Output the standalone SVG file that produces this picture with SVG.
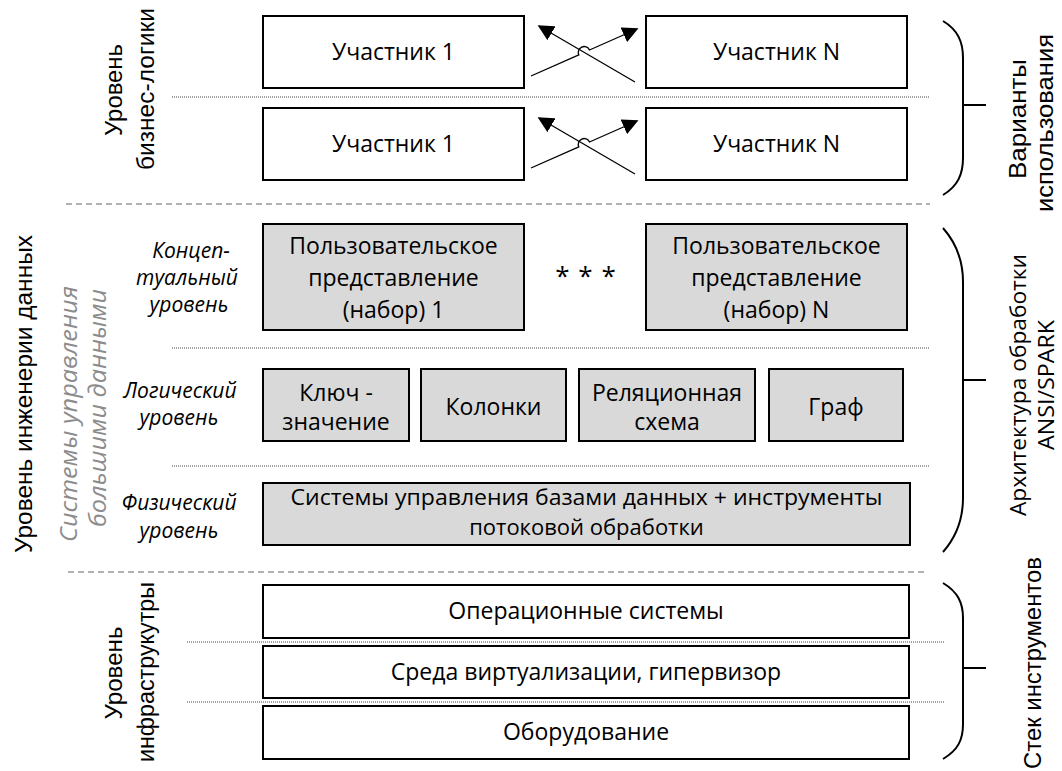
<svg xmlns="http://www.w3.org/2000/svg" width="1062" height="771" viewBox="0 0 1062 771">
  <defs>
    <marker id="tri" viewBox="0 0 10 10" refX="9" refY="5" markerWidth="16" markerHeight="16" markerUnits="userSpaceOnUse" orient="auto">
      <path d="M0,0 L10,5 L0,10 z" fill="#000"/>
    </marker>
    <style>
      .box { fill: #fff; stroke: #000; stroke-width: 2; }
      .gbox { fill: #d9d9d9; stroke: #000; stroke-width: 2; }
      .t { font-family: "Open Sans", "Liberation Sans", sans-serif; font-size: 23px; fill: #000; text-anchor: middle; }
      .t2 { font-family: "Open Sans", "Liberation Sans", sans-serif; font-size: 22px; fill: #000; text-anchor: middle; }
      .stars { font-family: "Open Sans", "Liberation Sans", sans-serif; font-size: 26px; letter-spacing: 1px; fill: #000; text-anchor: middle; }
      .it { font-family: "Open Sans", "Liberation Sans", sans-serif; font-style: italic; font-size: 21px; fill: #000; text-anchor: middle; }
      .git { font-family: "Open Sans", "Liberation Sans", sans-serif; font-style: italic; font-size: 23px; fill: #8c8c8c; text-anchor: middle; }
      .lab { font-family: "Liberation Sans", Arial, sans-serif; font-size: 23px; fill: #000; text-anchor: middle; }
      .labc { font-family: "Open Sans", "Liberation Sans", sans-serif; font-size: 22px; fill: #000; text-anchor: middle; }
      .dot { stroke: #444; stroke-width: 1; stroke-dasharray: 1 1; fill: none; }
      .dash { stroke: #666; stroke-width: 1.2; stroke-dasharray: 6 4; fill: none; }
      .brace { stroke: #000; stroke-width: 2; fill: none; }
      .conn { stroke: #000; stroke-width: 1.3; fill: none; }
    </style>
  </defs>

  <!-- separators between levels -->
  <g id="separators">
    <line class="dot" x1="172" y1="97" x2="930" y2="97"/>
    <line class="dash" x1="66" y1="204" x2="930" y2="204"/>
    <line class="dot" x1="172" y1="348" x2="930" y2="348"/>
    <line class="dot" x1="172" y1="466" x2="930" y2="466"/>
    <line class="dash" x1="68" y1="572" x2="928" y2="572"/>
    <line class="dot" x1="187" y1="642" x2="945" y2="642"/>
    <line class="dot" x1="187" y1="702" x2="945" y2="702"/>
  </g>

  <!-- business logic level -->
  <g id="p1a"><rect class="box" x="263" y="16" width="261" height="72"/><text class="t" x="393.5" y="60">Участник 1</text></g>
  <g id="pNa"><rect class="box" x="646" y="16" width="261" height="72"/><text class="t" x="776.5" y="60">Участник N</text></g>
  <g id="p1b"><rect class="box" x="263" y="108" width="261" height="72"/><text class="t" x="393.5" y="152">Участник 1</text></g>
  <g id="pNb"><rect class="box" x="646" y="108" width="261" height="72"/><text class="t" x="776.5" y="152">Участник N</text></g>

  <!-- conceptual level -->
  <g id="view1">
    <rect class="gbox" x="263" y="224" width="261" height="106"/>
    <text class="t" x="393.5" y="254">Пользовательское</text>
    <text class="t" x="393.5" y="286">представление</text>
    <text class="t" x="393.5" y="318">(набор) 1</text>
  </g>
  <g id="dots"><text class="stars" x="586" y="285">* * *</text></g>
  <g id="viewN">
    <rect class="gbox" x="646" y="224" width="261" height="106"/>
    <text class="t" x="776.5" y="254">Пользовательское</text>
    <text class="t" x="776.5" y="286">представление</text>
    <text class="t" x="776.5" y="318">(набор) N</text>
  </g>

  <!-- logical level -->
  <g id="kv">
    <rect class="gbox" x="263" y="369" width="146" height="72"/>
    <text class="t" x="336" y="401">Ключ -</text>
    <text class="t" x="336" y="430">значение</text>
  </g>
  <g id="cols">
    <rect class="gbox" x="421" y="369" width="145" height="72"/>
    <text class="t" x="493.5" y="415">Колонки</text>
  </g>
  <g id="rel">
    <rect class="gbox" x="579" y="369" width="176" height="72"/>
    <text class="t" x="667" y="401">Реляционная</text>
    <text class="t" x="667" y="430">схема</text>
  </g>
  <g id="graph">
    <rect class="gbox" x="769" y="369" width="134" height="72"/>
    <text class="t" x="836" y="415">Граф</text>
  </g>

  <!-- physical level -->
  <g id="dbms">
    <rect class="gbox" x="263" y="483" width="647" height="62"/>
    <text class="t2" x="586.5" y="505" textLength="592" lengthAdjust="spacingAndGlyphs">Системы управления базами данных + инструменты</text>
    <text class="t2" x="586.5" y="535">потоковой обработки</text>
  </g>

  <!-- infrastructure level -->
  <g id="os"><rect class="box" x="263" y="585" width="646" height="53"/><text class="t" x="586" y="619">Операционные системы</text></g>
  <g id="virt"><rect class="box" x="263" y="646" width="646" height="52"/><text class="t" x="586" y="680">Среда виртуализации, гипервизор</text></g>
  <g id="hw"><rect class="box" x="263" y="706" width="646" height="53"/><text class="t" x="586" y="740">Оборудование</text></g>

  <!-- left labels -->
  <g id="lbl-business">
    <text class="lab" transform="translate(122,90) rotate(-90)" textLength="92" lengthAdjust="spacingAndGlyphs">Уровень</text>
    <text class="lab" transform="translate(154,89) rotate(-90)" textLength="162" lengthAdjust="spacingAndGlyphs">бизнес-логики</text>
  </g>
  <g id="lbl-data"><text class="lab" transform="translate(32,394) rotate(-90)" textLength="318" lengthAdjust="spacingAndGlyphs">Уровень инженерии данных</text></g>
  <g id="lbl-bigdata">
    <text class="git" transform="translate(77,414) rotate(-90)" textLength="256" lengthAdjust="spacingAndGlyphs">Системы управления</text>
    <text class="git" transform="translate(106,408) rotate(-90)" textLength="238" lengthAdjust="spacingAndGlyphs">большими данными</text>
  </g>
  <g id="lbl-concept"><text class="it" x="191" y="258">Концеп-</text><text class="it" x="187" y="285">туальный</text><text class="it" x="189" y="312">уровень</text></g>
  <g id="lbl-logic"><text class="it" x="180" y="398">Логический</text><text class="it" x="179" y="425">уровень</text></g>
  <g id="lbl-phys"><text class="it" x="179" y="510">Физический</text><text class="it" x="179" y="538">уровень</text></g>
  <g id="lbl-infra">
    <text class="lab" transform="translate(122,673) rotate(-90)" textLength="93" lengthAdjust="spacingAndGlyphs">Уровень</text>
    <text class="lab" transform="translate(154,672) rotate(-90)" textLength="180" lengthAdjust="spacingAndGlyphs">инфраструкутры</text>
  </g>

  <!-- right labels -->
  <g id="lbl-usecases">
    <text class="lab" transform="translate(1026,119) rotate(-90)" textLength="120" lengthAdjust="spacingAndGlyphs">Варианты</text>
    <text class="lab" transform="translate(1053,123) rotate(-90)" textLength="178" lengthAdjust="spacingAndGlyphs">использования</text>
  </g>
  <g id="lbl-ansi">
    <text class="labc" transform="translate(1026,385) rotate(-90)" textLength="262" lengthAdjust="spacingAndGlyphs">Архитектура обработки</text>
    <text class="labc" transform="translate(1054,385) rotate(-90)" textLength="130" lengthAdjust="spacingAndGlyphs">ANSI/SPARK</text>
  </g>
  <g id="lbl-stack"><text class="lab" transform="translate(1041,663) rotate(-90)" textLength="212" lengthAdjust="spacingAndGlyphs">Стек инструментов</text></g>

  <!-- braces -->
  <g id="braces">
    <path class="brace" d="M943,21 C958,30 963,42 963,58 L963,158 C963,174 958,186 943,195 M963,105 H986"/>
    <path class="brace" d="M943,228 C958,245 963,262 963,282 L963,498 C963,518 958,535 943,552 M963,380 H986"/>
    <path class="brace" d="M943,583 C958,592 963,603 963,618 L963,724 C963,740 958,750 943,759 M963,668 H986"/>
  </g>

  <!-- connectors between participants -->
  <g id="connectors">
    <path class="conn" d="M531,76 L578.8,54.8 A5.6,5.6 0 0 1 589.5,50 L637,29" marker-end="url(#tri)"/>
    <path class="conn" d="M635,82 L539,26" marker-end="url(#tri)"/>
    <path class="conn" d="M531,168 L578.8,146.8 A5.6,5.6 0 0 1 589.5,142 L637,121" marker-end="url(#tri)"/>
    <path class="conn" d="M635,174 L539,118" marker-end="url(#tri)"/>
  </g>
</svg>
